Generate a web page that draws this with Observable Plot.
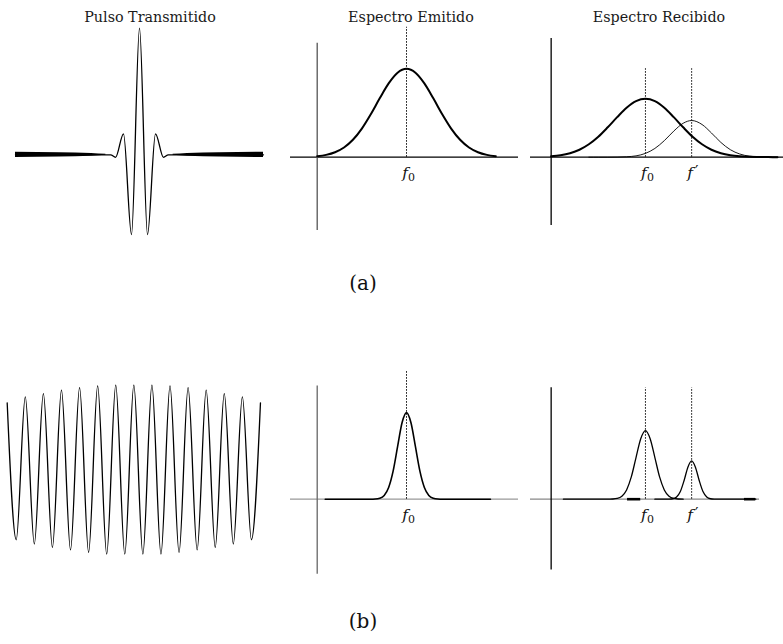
<!DOCTYPE html>
<html><head><meta charset="utf-8">
<script src="https://cdn.jsdelivr.net/npm/d3@7"></script>
<script src="https://cdn.jsdelivr.net/npm/@observablehq/plot@0.6"></script>
<style>
body{margin:0;background:#fff}
#fig{position:relative;width:783px;height:644px;overflow:hidden;background:#fff;font-family:"DejaVu Serif",serif}
.t{position:absolute;transform:translateX(-50%);white-space:nowrap;font-size:14.3px;color:#1a1a1a;line-height:1}
.lab{position:absolute;transform:translateX(-50%);white-space:nowrap;font-size:20px;color:#111;line-height:1}
</style></head><body><div id="fig"></div>
<script>
// ---------- data ----------
const titles = ["Pulso Transmitido", "Espectro Emitido", "Espectro Recibido"];
const rowLabels = ["(a)", "(b)"];

// (a) transmitted pulse: time (half periods) and amplitude
const pulseT = [-15.5, -3.6, -3, -2, -1, 0, 1, 2, 3, 3.6, 15.5];
const pulseA = [0, 0, -0.02, 0.166, -0.63, 1, -0.63, 0.166, -0.02, 0, 0];
// thickness of the noisy baseline band (half width, amplitude units)
const bandT = [-15.5, -10, -6, -4.2, 4.2, 6, 10, 15.5];
const bandH = [0.021, 0.017, 0.011, 0.004, 0.004, 0.011, 0.017, 0.021];

// (a) emitted spectrum
const fA2 = [0,0.1,0.2,0.3,0.4,0.5,0.6,0.7,0.8,0.9,1.0,1.1,1.2,1.3,1.4,1.5,1.6,1.7,1.8,1.9,2.0];
const aA2 = [0.011,0.026,0.056,0.110,0.197,0.324,0.486,0.666,0.835,0.956,1,0.956,0.835,0.666,0.486,0.324,0.197,0.110,0.056,0.026,0.011];

// (a) received spectrum: echo from f0 (thick) and shifted f' (thin)
const fA3 = [0,0.1,0.2,0.3,0.4,0.5,0.6,0.7,0.8,0.9,1.0,1.1,1.2,1.3,1.4,1.5,1.6,1.7,1.8,1.9,2.0,2.1,2.2,2.3,2.4];
const aA3 = [0.010,0.022,0.045,0.084,0.146,0.231,0.338,0.453,0.559,0.634,0.661,0.634,0.559,0.453,0.338,0.231,0.146,0.084,0.045,0.022,0.010,0.004,0.002,0.001,0];
const fA3b = [0.4,0.5,0.6,0.7,0.8,0.9,1.0,1.1,1.2,1.3,1.4,1.49,1.6,1.7,1.8,1.9,2.0,2.1,2.2,2.3,2.4];
const aA3b = [0,0,0,0.001,0.005,0.015,0.043,0.099,0.187,0.295,0.384,0.415,0.370,0.274,0.167,0.085,0.036,0.012,0.004,0.001,0];

// (b) transmitted long pulse: peaks and troughs per cycle
const peaksB = [0.79,0.86,0.90,0.94,0.97,0.99,1.0,1.0,1.0,0.99,0.97,0.94,0.90,0.86,0.79];
const troughsB = [-0.82,-0.87,-0.91,-0.94,-0.97,-0.99,-0.99,-0.99,-0.99,-0.97,-0.94,-0.91,-0.87,-0.82];

// (b) emitted spectrum
const fB2 = [0.09,0.6,0.65,0.7,0.75,0.8,0.85,0.9,0.95,1.0,1.05,1.1,1.15,1.2,1.25,1.3,1.35,1.4,1.94];
const aB2 = [0,0,0.002,0.011,0.043,0.133,0.318,0.594,0.865,0.98,0.865,0.594,0.318,0.133,0.043,0.011,0.002,0,0];

// (b) received spectrum
const fB3a = [0.13,0.6,0.65,0.7,0.75,0.8,0.85,0.9,0.95,1.0,1.05,1.1,1.15,1.2,1.25,1.3,1.35,1.4];
const aB3a = [0,0,0.002,0.009,0.034,0.105,0.252,0.471,0.684,0.776,0.684,0.471,0.252,0.105,0.034,0.009,0.002,0];
const fB3b = [1.1,1.21,1.25,1.29,1.33,1.37,1.41,1.45,1.49,1.53,1.57,1.61,1.65,1.69,1.73,1.77,2.17];
const aB3b = [0,0,0.001,0.005,0.025,0.087,0.212,0.362,0.433,0.362,0.212,0.087,0.025,0.005,0.001,0,0];
const segStart = [0.81, 2.05];
const segEnd = [0.95, 2.17];

// frequency markers
const f0 = 1, fp = 1.49;

// ---------- helpers ----------
const fig = document.getElementById("fig");
const zip = (xs, ys) => xs.map((x, i) => ({x, y: ys[i]}));

function panel(left, top, w, h, xd, yd, marks) {
  const svg = Plot.plot({
    width: w, height: h, margin: 0,
    x: {domain: xd, axis: null}, y: {domain: yd, axis: null},
    style: {overflow: "visible", background: "transparent"},
    marks
  });
  svg.style.position = "absolute";
  svg.style.left = left + "px";
  svg.style.top = top + "px";
  fig.appendChild(svg);
}
function html(cls, text, x, y) {
  const d = document.createElement("div");
  d.className = cls; d.textContent = text;
  d.style.left = x + "px"; d.style.top = y + "px";
  fig.appendChild(d);
}
const fLetter = (xs) => Plot.text(xs, {x: d => d, y: 0, text: () => "f", fontStyle: "italic", fontSize: 15.5, dy: 16, dx: -1.5, fill: "#111", fontFamily: "DejaVu Serif"});
const sub0 = (xs) => Plot.text(xs, {x: d => d, y: 0, text: () => "0", fontSize: 11, dy: 20, dx: 5, fill: "#111", fontFamily: "DejaVu Serif"});
const prime = (xs) => Plot.text(xs, {x: d => d, y: 0, text: () => "′", fontSize: 15, dy: 15, dx: 5, fill: "#111", fontFamily: "DejaVu Sans"});

// ---------- titles ----------
html("t", titles[0], 150, 10);
html("t", titles[1], 411, 10);
html("t", titles[2], 659, 10);
html("lab", rowLabels[0], 363, 273);
html("lab", rowLabels[1], 363, 611);

// ---------- (a) pulse ----------
panel(15, 20, 248, 220, [-15.5, 15.5], [-0.677, 1.061], [
  Plot.areaY(zip(bandT.slice(0,4), bandH.slice(0,4)), {x: "x", y1: d => -d.y, y2: "y", fill: "#000", curve: "monotone-x"}),
  Plot.areaY(zip(bandT.slice(4), bandH.slice(4)), {x: "x", y1: d => -d.y, y2: "y", fill: "#000", curve: "monotone-x"}),
  Plot.line(zip(pulseT, pulseA), {x: "x", y: "y", curve: "monotone-x", stroke: "#000", strokeWidth: 1.3})
]);

const yDomSpec = [-0.886, 1.490];
// ---------- (a) emitted ----------
panel(290, 25, 228, 210, [-0.299, 2.254], yDomSpec, [
  Plot.ruleY([0], {stroke: "#000", strokeWidth: 1.2}),
  Plot.ruleX([0], {y1: -0.83, y2: 1.29, stroke: "#555", strokeWidth: 1.3}),
  Plot.ruleX([f0], {y1: 0, y2: 1.47, stroke: "#000", strokeWidth: 1, strokeDasharray: "1.5,1.5"}),
  Plot.line(zip(fA2, aA2), {x: "x", y: "y", curve: "monotone-x", stroke: "#000", strokeWidth: 2}),
  fLetter([f0]), sub0([f0])
]);

// ---------- (a) received ----------
panel(530, 25, 253, 210, [-0.219, 2.464], yDomSpec, [
  Plot.ruleY([0], {stroke: "#000", strokeWidth: 1.2}),
  Plot.ruleX([0], {y1: -0.773, y2: 1.343, stroke: "#000", strokeWidth: 1.3}),
  Plot.ruleX([f0, fp], {y1: 0, y2: 1.0, stroke: "#000", strokeWidth: 1, strokeDasharray: "1.5,1.5"}),
  Plot.line(zip(fA3, aA3), {x: "x", y: "y", curve: "monotone-x", stroke: "#000", strokeWidth: 2}),
  Plot.line(zip(fA3b, aA3b), {x: "x", y: "y", curve: "monotone-x", stroke: "#000", strokeWidth: 0.9}),
  fLetter([f0, fp]), sub0([f0]), prime([fp])
]);

// ---------- (b) long pulse ----------
const oscT = [], oscA = [];
peaksB.forEach((p, i) => {
  oscT.push(i); oscA.push(p);
  if (i < troughsB.length) { oscT.push(i + 0.5); oscA.push(troughsB[i]); }
});
panel(0, 370, 270, 200, [-0.370, 14.555], [-1.182, 1.171], [
  Plot.line(zip(oscT, oscA), {x: "x", y: "y", curve: "monotone-x", stroke: "#000", strokeWidth: 1.3})
]);

// ---------- (b) emitted ----------
panel(290, 367, 228, 210, [-0.299, 2.254], yDomSpec, [
  Plot.ruleY([0], {stroke: "#999", strokeWidth: 1.2}),
  Plot.ruleX([0], {y1: -0.848, y2: 1.282, stroke: "#666", strokeWidth: 1.3}),
  Plot.ruleX([f0], {y1: 0, y2: 1.45, stroke: "#000", strokeWidth: 1, strokeDasharray: "1.5,1.5"}),
  Plot.line(zip(fB2, aB2), {x: "x", y: "y", curve: "monotone-x", stroke: "#000", strokeWidth: 1.6}),
  fLetter([f0]), sub0([f0])
]);

// ---------- (b) received ----------
panel(530, 367, 253, 210, [-0.219, 2.464], yDomSpec, [
  Plot.ruleY([0], {x1: -0.219, x2: 2.21, stroke: "#888", strokeWidth: 1.2}),
  Plot.ruleX([0], {y1: -0.80, y2: 1.26, stroke: "#000", strokeWidth: 1.3}),
  Plot.ruleX([f0, fp], {y1: 0, y2: 1.26, stroke: "#000", strokeWidth: 1, strokeDasharray: "1.5,1.5"}),
  Plot.ruleY(segStart.map((s, i) => ({s, e: segEnd[i]})), {x1: "s", x2: "e", y: 0, stroke: "#000", strokeWidth: 2.6}),
  Plot.line(zip(fB3a, aB3a), {x: "x", y: "y", curve: "monotone-x", stroke: "#000", strokeWidth: 1.3}),
  Plot.line(zip(fB3b, aB3b), {x: "x", y: "y", curve: "monotone-x", stroke: "#000", strokeWidth: 1.3}),
  fLetter([f0, fp]), sub0([f0]), prime([fp])
]);
</script></body></html>
